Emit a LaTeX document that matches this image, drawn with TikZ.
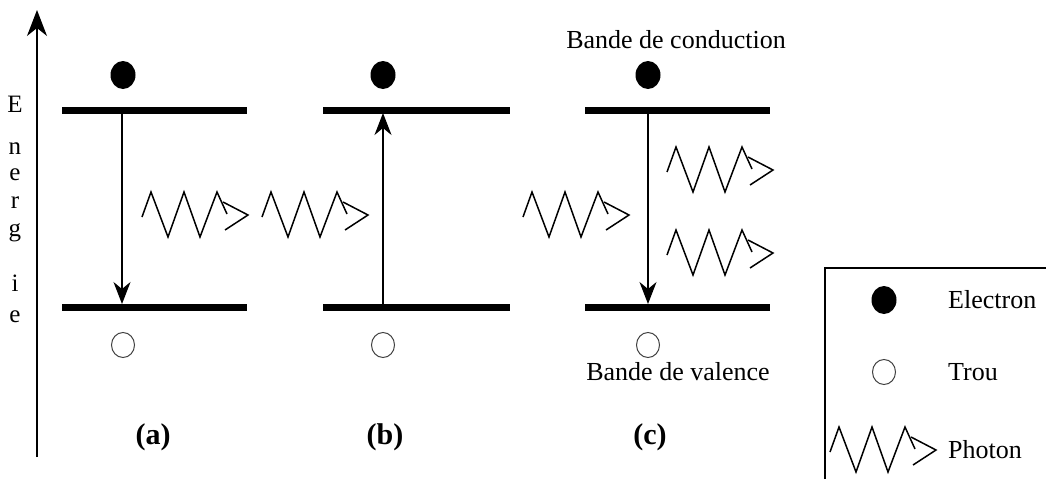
\documentclass[tikz,border=0pt]{standalone}
\usepackage{fontspec}
\setmainfont{Liberation Serif}
\usepackage{tikz}
\usetikzlibrary{positioning, arrows.meta, shapes.geometric}

\begin{document}
\begin{tikzpicture}[x=1pt, y=-1pt,
        band/.style={line width=7pt},
        trans/.style={-{Stealth[length=22pt, width=17pt, inset=7pt]}, line width=1.2pt},
        axis/.style={-{Stealth[length=26pt, width=20pt, inset=8pt]}, line width=1.2pt},
        electron/.style={ellipse, fill=black, minimum width=25pt, minimum height=28pt, inner sep=0pt},
        hole/.style={ellipse, draw=black!75, line width=1pt, minimum width=23pt, minimum height=25pt, inner sep=0pt},
        wave/.style={line width=1.5pt, line join=miter},
        txt/.style={font=\fontsize{26}{30}\selectfont, inner sep=0pt},
        sublbl/.style={font=\fontsize{30}{34}\selectfont\bfseries, inner sep=0pt},
        axislbl/.style={font=\fontsize{25}{28}\selectfont, inner sep=0pt},
        photon/.pic={
            \draw[wave] (0,0) -- (9,-25) -- (26,20) -- (42,-25) -- (58,20) -- (75,-25) -- (85,-3);
            \draw[wave] (81,-15) -- (106,-2) -- (83,13);
        }
    ]
    \useasboundingbox (0,0) rectangle (1046,479);

    % axe des energies
    \coordinate (eBot) at (37,457);
    \coordinate (eTop) at (37,10);
    \draw[axis] (eBot) -- (eTop);
    \foreach \ch/\yy [count=\i] in {E/104,n/149,e/175,r/203,g/233,i/283,e/317}
        \node[axislbl] (en\i) at (15,\yy) {\ch};

    % bandes
    \draw[band] (62,110) -- (247,110);
    \draw[band] (62,307) -- (247,307);
    \draw[band] (323,110) -- (510,110);
    \draw[band] (323,307) -- (510,307);
    \draw[band] (585,110) -- (770,110);
    \draw[band] (585,307) -- (770,307);

    % (a) emission spontanee
    \node[electron] (eA) at (123,75) {};
    \node[hole] (hA) at (123,345) {};
    \coordinate (aUp) at (122,110);
    \coordinate (aDn) at (122,304);
    \draw[trans] (aUp) -- (aDn);
    \pic (phA) at (142,217) {photon};
    \node[sublbl] (labA) at (153,437) {(a)};

    % (b) absorption
    \node[electron] (eB) at (383,75) {};
    \node[hole] (hB) at (383,345) {};
    \coordinate (bDn) at (383,307);
    \coordinate (bUp) at (383,113);
    \draw[trans] (bDn) -- (bUp);
    \pic (phB) at (262,217) {photon};
    \node[sublbl] (labB) at (385,437) {(b)};

    % (c) emission stimulee
    \node[electron] (eC) at (648,75) {};
    \node[hole] (hC) at (648,345) {};
    \coordinate (cUp) at (648,110);
    \coordinate (cDn) at (648,304);
    \draw[trans] (cUp) -- (cDn);
    \pic (phC) at (523,217) {photon};
    \pic (phC1) at (667,172) {photon};
    \pic (phC2) at (667,255) {photon};
    \node[txt] (BC) at (676,40) {Bande de conduction};
    \node[txt] (BV) at (678,372) {Bande de valence};
    \node[sublbl] (labC) at (650,437) {(c)};

    % legende
    \draw[line width=1.3pt] (825,479) -- (825,268) -- (1046,268);
    \node[electron] (legE) at (884,300) {};
    \node[hole] (legH) at (884,372) {};
    \pic (legP) at (830,452) {photon};
    \node[txt, anchor=west] (legEt) at (948,300) {Electron};
    \node[txt, anchor=west] (legHt) at (948,372) {Trou};
    \node[txt, anchor=west] (legPt) at (948,450) {Photon};
\end{tikzpicture}
\end{document}
